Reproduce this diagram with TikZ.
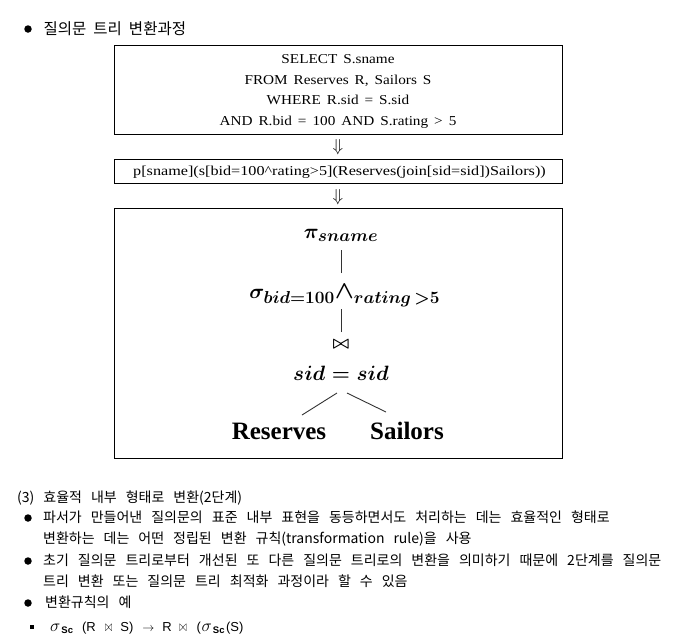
\documentclass[tikz,border=0pt]{standalone}
\usepackage{fontspec}
\newfontfamily\kr{Noto Sans CJK KR}
\newfontfamily\sqlf[FakeStretch=1.12]{Liberation Serif}
\newfontfamily\sqlfb[FakeStretch=1.19]{Liberation Serif}
\newfontfamily\tnr{Liberation Serif}
\newfontfamily\ls{Liberation Sans}
\DeclareMathSizes{22}{22}{18}{14}
\newcommand\krbody{\kr\fontsize{14}{16}\selectfont\spaceskip=9pt plus 40pt\relax}
\newcommand\krhead{\kr\fontsize{15.5}{18}\selectfont\spaceskip=7pt plus 40pt\relax}
\newcommand\sqlbody{\sqlf\fontsize{13.6}{16}\selectfont\spaceskip=6pt\relax}
\newcommand\sqlbodyb{\sqlfb\fontsize{13.6}{16}\selectfont\spaceskip=6pt\relax}
\newcommand\scsub{\raisebox{-2pt}{\ls\bfseries\fontsize{9.5}{9.5}\selectfont Sc}}
\newcommand\jl[2]{\makebox[#1][s]{#2}}
\newcommand\bigand{\hbox{\fontsize{27}{27}\selectfont\boldmath$\wedge$}}
\newcommand\thinbow{\raisebox{0.3pt}{\scalebox{0.75}[1.25]{\fontsize{12}{12}\selectfont$\bowtie$}}}
\newcommand\sigbig{{\fontsize{16}{16}\selectfont$\sigma$}}
\begin{document}
\begin{tikzpicture}[x=1pt,y=-1pt,
  bul/.style={circle,fill=black,inner sep=0,minimum size=7.5pt},
  sq/.style={rectangle,fill=black,inner sep=0,minimum size=4.5pt},
  krt/.style={anchor=base west,inner sep=0,font=\krbody},
  boxn/.style={draw=black,line width=1pt,inner sep=0},
  sqlt/.style={anchor=base,inner sep=0,font=\sqlbody},
  arr/.style={inner sep=0,font=\fontsize{16}{18}\selectfont},
  tmath/.style={inner sep=0,font=\fontsize{22}{26}\selectfont\boldmath},
  leaf/.style={inner sep=0,font=\tnr\bfseries\fontsize{25}{28}\selectfont},
  edge/.style={draw=black!80,line width=0.9pt}]
\useasboundingbox[fill=white] (0,0) rectangle (682,638);

% header
\node[bul] (h0) at (28,29) {};
\node[krt,font=\krhead] (h) at (43.5,34.5) {\jl{132pt}{질의문 트리 변환과정}};

% box 1: SQL
\node[boxn,minimum width=448pt,minimum height=89pt] (b1) at (338,89.5) {};
\node[sqlt] (s1) at (338,63.5) {SELECT S.sname};
\node[sqlt] (s2) at (338,84) {FROM Reserves R, Sailors S};
\node[sqlt] (s3) at (338,104.5) {WHERE R.sid = S.sid};
\node[sqlt] (s4) at (338,125.5) {AND R.bid = 100 AND S.rating > 5};

\node[arr] (a1) at (338,147) {$\Downarrow$};

% box 2
\node[boxn,minimum width=448pt,minimum height=24pt] (b2) at (338,171) {};
\node[sqlt,font=\sqlbodyb] (s5) at (339.5,175.5) {p[sname](s[bid=100\string^rating>5](Reserves(join[sid=sid])Sailors))};

\node[arr] (a2) at (338,197) {$\Downarrow$};

% box 3: tree
\node[boxn,minimum width=448pt,minimum height=250pt] (b3) at (338,333) {};
\node[tmath] (pi) at (341,235) {$\pi_{sname}$};
\node[tmath] (sg) at (344.7,296) {$\sigma_{bid=100}\mathord{\bigand}_{rating\,>5}$};
\node[tmath,font=\fontsize{18}{20}\selectfont\boldmath] (jn) at (341,344) {$\bowtie$};
\node[tmath] (eq) at (341,373) {$sid=sid$};
\node[leaf] (res) at (279,431) {Reserves};
\node[leaf] (sai) at (407,431) {Sailors};

\coordinate (c1) at (pi.center |- sg.center);
\coordinate (c2) at (pi.center |- jn.center);
\draw[edge] ([yshift=23pt]c1) -- ([yshift=46pt]c1);
\draw[edge] ([yshift=12pt]c2) -- ([yshift=35pt]c2);
\draw[edge] ([shift={(-4pt,-20pt)}]eq.center) -- ([shift={(23pt,16pt)}]res.center);
\draw[edge] ([shift={(6pt,-20pt)}]eq.center) -- ([shift={(-21pt,19pt)}]sai.center);

% bottom text
\node[krt] (t0) at (17,502.7) {(3) 효율적 내부 형태로 변환(2단계)};
\node[bul] (d1) at (28,518) {};
\node[krt] (t1) at (43,522.7) {\jl{560pt}{파서가 만들어낸 질의문의 표준 내부 표현을 동등하면서도 처리하는 데는 효율적인 형태로}};
\node[krt] (t2) at (43,543.7) {\jl{406pt}{변환하는 데는 어떤 정립된 변환 규칙(transformation rule)을 사용}};
\node[bul] (d2) at (28,561) {};
\node[krt] (t3) at (43,565.7) {\jl{607pt}{초기 질의문 트리로부터 개선된 또 다른 질의문 트리로의 변환을 의미하기 때문에 2단계를 질의문}};
\node[krt] (t4) at (43,586.7) {\jl{354pt}{트리 변환 또는 질의문 트리 최적화 과정이라 할 수 있음}};
\node[bul] (d3) at (28,603) {};
\node[krt] (t5) at (45,607.7) {\jl{85pt}{변환규칙의 예}};
\node[sq] (d4) at (32,627) {};
\node[anchor=base west,inner sep=0,font=\ls\fontsize{13}{15}\selectfont] (rule) at (50,631.5)
 {\sigbig\hspace{1pt}\scsub\hspace{9pt}(R\hspace{9.3pt}\thinbow\hspace{8pt}S)\hspace{9pt}$\rightarrow$\hspace{8pt}R\hspace{7.6pt}\thinbow\hspace{10pt}(\hspace{0.7pt}\sigbig\hspace{1pt}\scsub\hspace{1.5pt}(S)};
\end{tikzpicture}
\end{document}
